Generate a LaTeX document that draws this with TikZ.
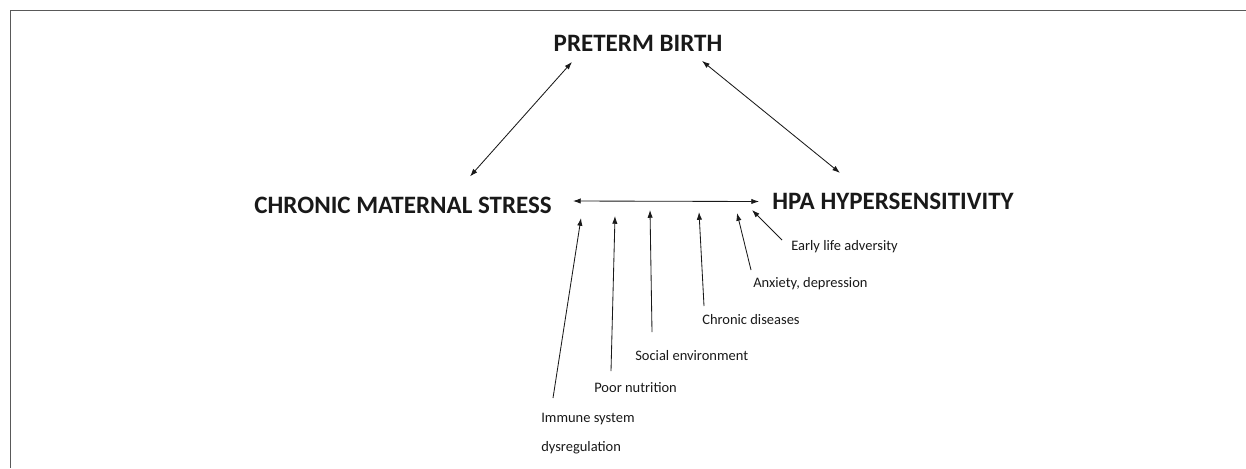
\documentclass[tikz,border=0pt]{standalone}
\usepackage{fontspec}
\setmainfont{Carlito}
\usetikzlibrary{arrows.meta}

\begin{document}
\begin{tikzpicture}[
x=0.025cm, y=-0.025cm,
every node/.style = {inner sep=0, text=black!90},
big/.style = {font=\fontsize{17.8}{20}\selectfont\bfseries},
factor/.style = {anchor=west, font=\fontsize{10.3}{12}\selectfont, text height=1.5ex, text depth=.25ex},
link/.style = {draw=black!90, line width=0.6pt, -{Latex[length=5.5pt,width=3.8pt]}},
both/.style = {link, {Latex[length=5.5pt,width=3.8pt]}-{Latex[length=5.5pt,width=3.8pt]}}
]
\useasboundingbox (0,0) rectangle (1246,468);
\draw[black!65, line width=0.7pt] (1246,10) -- (10,10) -- (10,468);

\node[big] (pb) at (638,43.5) {PRETERM BIRTH};
\node[big, anchor=east] (cms) at (552,205) {CHRONIC MATERNAL STRESS};
\node[big, anchor=west] (hpa) at (772,201.5) {HPA HYPERSENSITIVITY};

\draw[both] ([shift={(-66,10)}]pb.south) -- ([shift={(-82,-20)}]cms.north east);
\draw[both] ([shift={(64,9)}]pb.south) -- ([shift={(68,-20)}]hpa.north west);
\draw[both] ([shift={(21,-4)}]cms.east) -- ([shift={(-13,0)}]hpa.west);

\node[factor] (ela) at (791,246) {Early life adversity};
\node[factor] (anx) at (753,283) {Anxiety, depression};
\node[factor] (chd) at (702,320) {Chronic diseases};
\node[factor] (soc) at (635,356) {Social environment};
\node[factor] (nut) at (594,388) {Poor nutrition};
\node[factor] (imm) at (541,418) {Immune system};
\node[factor] (dys) at (541,447) {dysregulation};

\coordinate (ela-in) at (752,210);
\coordinate (anx-in) at (737,213);
\coordinate (chd-in) at (699,212);
\coordinate (soc-in) at (650,210);
\coordinate (nut-in) at (615,216);
\coordinate (imm-in) at (581,218);

\draw[link] ([shift={(-9,-6)}]ela.west) -- (ela-in);
\draw[link] ([shift={(-2,-13)}]anx.west) -- (anx-in);
\draw[link] ([shift={(2,-14)}]chd.west) -- (chd-in);
\draw[link] ([shift={(17,-24)}]soc.west) -- (soc-in);
\draw[link] ([shift={(17,-17)}]nut.west) -- (nut-in);
\draw[link] ([shift={(12,-20)}]imm.west) -- (imm-in);
\end{tikzpicture}
\end{document}
